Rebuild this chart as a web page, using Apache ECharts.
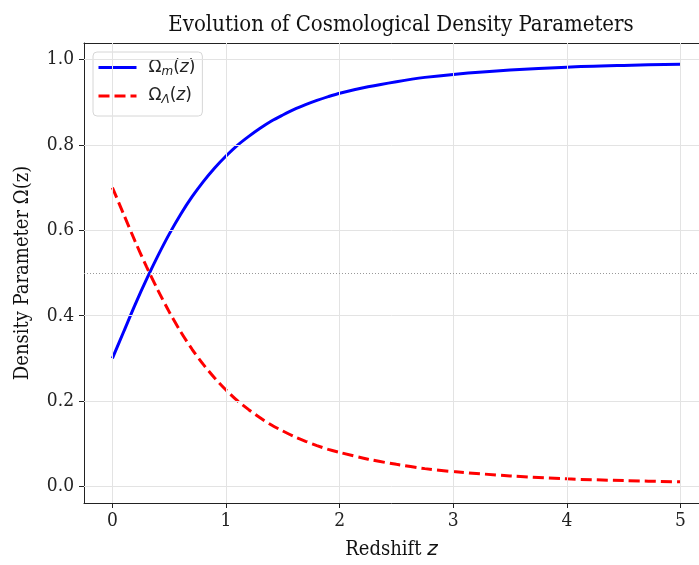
<!DOCTYPE html>
<html>
<head>
<meta charset="utf-8">
<script src="https://cdn.jsdelivr.net/npm/echarts@6/dist/echarts.min.js"></script>
<style>
  html, body { margin: 0; padding: 0; background: #fff; }
  #chart { width: 699px; height: 565px; }
</style>
</head>
<body>
<div id="chart"></div>
<script>
// redshift samples and density parameters
const redshift = [0, 0.1, 0.2, 0.3, 0.4, 0.5, 0.6, 0.7, 0.8, 0.9, 1.0, 1.1, 1.2, 1.3, 1.4, 1.5, 1.6, 1.7, 1.8, 1.9, 2.0, 2.25, 2.5, 2.75, 3.0, 3.5, 4.0, 4.5, 5.0];
const omegaMatter = [0.300, 0.363, 0.426, 0.485, 0.540, 0.591, 0.637, 0.678, 0.714, 0.746, 0.774, 0.799, 0.820, 0.839, 0.856, 0.870, 0.883, 0.894, 0.904, 0.913, 0.921, 0.936, 0.948, 0.958, 0.965, 0.975, 0.982, 0.986, 0.989];
const omegaLambda = [0.700, 0.637, 0.574, 0.515, 0.460, 0.409, 0.363, 0.322, 0.286, 0.254, 0.226, 0.201, 0.180, 0.161, 0.144, 0.130, 0.117, 0.106, 0.096, 0.087, 0.080, 0.064, 0.052, 0.042, 0.035, 0.025, 0.018, 0.014, 0.011];
const xTicks = [0, 1, 2, 3, 4, 5];
const yTicks = [0.0, 0.2, 0.4, 0.6, 0.8, 1.0];
const equalityLevel = 0.5;

const chart = echarts.init(document.getElementById('chart'));

const serif = '"DejaVu Serif Condensed", "DejaVu Serif", serif';
const sans = '"DejaVu Sans", sans-serif';
const gridLineStyle = { color: '#e3e3e3', width: 1, type: 'solid' };

const legendRich = {
  g: { width: 7 },
  a: { fontFamily: sans, fontSize: 17, color: '#222' },
  s: { fontFamily: sans, fontSize: 12, fontStyle: 'italic', color: '#222', padding: [8, 0, 0, 0] },
  i: { fontFamily: sans, fontSize: 17, fontStyle: 'italic', color: '#222' }
};

const option = {
  animation: false,
  title: {
    text: 'Evolution of Cosmological Density Parameters',
    left: 396,
    textAlign: 'center',
    top: 9,
    textStyle: { fontFamily: serif, fontWeight: 'normal', fontSize: 22, color: '#111' }
  },
  legend: {
    orient: 'vertical',
    left: 93,
    top: 52,
    padding: [7, 7, 10, 4],
    itemGap: 10,
    itemWidth: 38,
    itemHeight: 19,
    backgroundColor: '#fff',
    borderColor: '#d6d6d6',
    borderWidth: 1,
    borderRadius: 4,
    itemStyle: { opacity: 0 },
    lineStyle: { width: 3 },
    data: ['m', 'L'],
    formatter: function (name) {
      return name === 'm'
        ? '{g|}{a|Ω}{s|m}{a|(}{i|z}{a|)}'
        : '{g|}{a|Ω}{s|Λ}{a|(}{i|z}{a|)}';
    },
    textStyle: { rich: legendRich }
  },
  grid: {
    left: 84,
    top: 43,
    right: 0,
    height: 463,
    show: false,
    containLabel: false
  },
  xAxis: [
    {
      type: 'value',
      min: -0.25,
      max: 5.163,
      name: '{t|Redshift }{i|z}',
      nameLocation: 'middle',
      nameGap: 37,
      nameTextStyle: {
        rich: {
          t: { fontFamily: serif, fontSize: 20, color: '#111' },
          i: { fontFamily: sans, fontSize: 20, fontStyle: 'italic', color: '#111' }
        }
      },
      axisLine: { show: true, onZero: false, lineStyle: { color: '#222' } },
      axisTick: { show: true, length: 5, customValues: xTicks, lineStyle: { color: '#222' } },
      axisLabel: { customValues: xTicks, margin: 9, fontFamily: serif, fontSize: 19, color: '#222' },
      splitLine: { show: false }
    },
    {
      type: 'value',
      position: 'top',
      min: -0.25,
      max: 5.163,
      axisLine: { show: true, onZero: false, lineStyle: { color: '#222' } },
      axisTick: { show: false },
      axisLabel: { show: false },
      splitLine: { show: false }
    }
  ],
  yAxis: {
    type: 'value',
    min: -0.0385,
    max: 1.0385,
    name: 'Density Parameter Ω(z)',
    nameLocation: 'middle',
    nameGap: 51,
    nameTextStyle: { fontFamily: serif, fontSize: 20, color: '#111' },
    axisLine: { show: true, onZero: false, lineStyle: { color: '#222' } },
    axisTick: { show: true, length: 5, customValues: yTicks, lineStyle: { color: '#222' } },
    axisLabel: {
      customValues: yTicks,
      margin: 10,
      fontFamily: serif,
      fontSize: 19,
      color: '#222',
      formatter: function (v) { return v.toFixed(1); }
    },
    splitLine: { show: false }
  },
  series: [
    {
      name: 'grid',
      type: 'line',
      data: [],
      silent: true,
      z: 1,
      markLine: {
        silent: true,
        symbol: ['none', 'none'],
        label: { show: false },
        lineStyle: gridLineStyle,
        data: xTicks.map(function (v) { return { xAxis: v }; })
          .concat(yTicks.map(function (v) { return { yAxis: v }; }))
          .concat([{ yAxis: equalityLevel, lineStyle: { color: '#999', type: [1, 2], width: 1 } }])
      }
    },
    {
      name: 'm',
      type: 'line',
      smooth: 0.3,
      symbol: 'none',
      z: 3,
      color: '#0000ff',
      lineStyle: { color: '#0000ff', width: 3 },
      data: redshift.map(function (z, i) { return [z, omegaMatter[i]]; })
    },
    {
      name: 'L',
      type: 'line',
      smooth: 0.3,
      symbol: 'none',
      z: 3,
      color: '#ff0000',
      lineStyle: { color: '#ff0000', width: 3, type: [11, 5] },
      data: redshift.map(function (z, i) { return [z, omegaLambda[i]]; })
    }
  ]
};

chart.setOption(option);
window.addEventListener('resize', function () { chart.resize(); });
</script>
</body>
</html>
